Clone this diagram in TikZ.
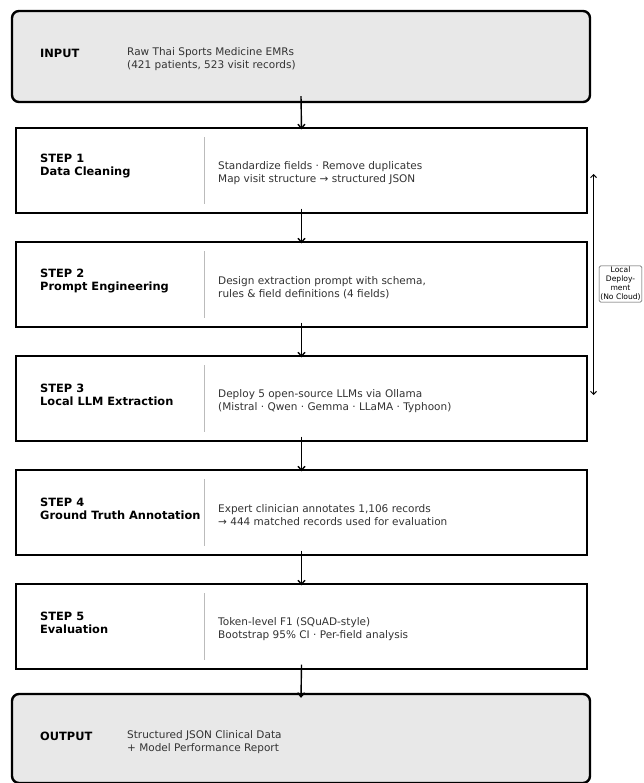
\documentclass[tikz,border=0pt]{standalone}
\usepackage{fontspec}
\setmainfont{DejaVu Sans}
\usetikzlibrary{arrows.meta}
\definecolor{boxgray}{HTML}{E8E8E8}
\definecolor{desc}{HTML}{333333}
\definecolor{divider}{HTML}{BBBBBB}
\tikzset{
  stepbox/.style={draw=black, line width=1.4pt, fill=white, minimum width=571pt, minimum height=85pt, inner sep=0pt},
  endbox/.style={draw=black, line width=2.4pt, fill=boxgray, rounded corners=7pt, minimum width=578pt, inner sep=0pt},
  ttl/.style={anchor=west, align=left, inner sep=0pt, font=\fontsize{11.4}{13}\selectfont\bfseries},
  dsc/.style={anchor=west, align=left, inner sep=0pt, text=desc, font=\fontsize{10.5}{13}\selectfont},
  arr/.style={line width=1.4pt, -{Straight Barb[length=4pt,width=7pt]}},
  dvd/.style={draw=divider, line width=1pt},
}
\begin{document}
\begin{tikzpicture}[x=1pt,y=-1pt]
\useasboundingbox (0,0) rectangle (644,783);
% input / output
\node[endbox, minimum height=91pt] (in) at (301,56.5) {};
\node[endbox, minimum height=89pt] (out) at (301,738.5) {};
% steps
\node[stepbox] (s1) at (301.5,170.5) {};
\node[stepbox] (s2) at (301.5,284.5) {};
\node[stepbox] (s3) at (301.5,398.5) {};
\node[stepbox] (s4) at (301.5,512.5) {};
\node[stepbox] (s5) at (301.5,626.5) {};
% dividers
\foreach \s in {s1,s2,s3,s4,s5}{
  \draw[dvd] ([xshift=-97.5pt,yshift=-10pt]\s.north) -- ([xshift=-97.5pt,yshift=10pt]\s.south);
}
% texts
\node[ttl] (tin) at (40,53) {INPUT};
\node[dsc] (din) at (127,59.5) {Raw Thai Sports Medicine EMRs\\(421 patients, 523 visit records)};
\node[ttl] (t1) at (40,166.5) {STEP 1\\Data Cleaning};
\node[dsc] (d1) at (218,173.5) {Standardize fields · Remove duplicates\\Map visit structure → structured JSON};
\node[ttl] (t2) at (40,280.5) {STEP 2\\Prompt Engineering};
\node[dsc] (d2) at (218,287.5) {Design extraction prompt with schema,\\rules \& field definitions (4 fields)};
\node[ttl] (t3) at (40,394.5) {STEP 3\\Local LLM Extraction};
\node[dsc] (d3) at (218,401.5) {Deploy 5 open-source LLMs via Ollama\\(Mistral · Qwen · Gemma · LLaMA · Typhoon)};
\node[ttl] (t4) at (40,508.5) {STEP 4\\Ground Truth Annotation};
\node[dsc] (d4) at (218,515.5) {Expert clinician annotates 1,106 records\\→ 444 matched records used for evaluation};
\node[ttl] (t5) at (40,622.5) {STEP 5\\Evaluation};
\node[dsc] (d5) at (218,629.5) {Token-level F1 (SQuAD-style)\\Bootstrap 95\% CI · Per-field analysis};
\node[ttl] (tout) at (40,736) {OUTPUT};
\node[dsc] (dout) at (127,742.5) {Structured JSON Clinical Data\\+ Model Performance Report};
% arrows
\draw[arr] ([yshift=7pt]in.south) -- ([yshift=-2pt]s1.north);
\draw[arr] ([yshift=5pt]s1.south) -- ([yshift=-2pt]s2.north);
\draw[arr] ([yshift=5pt]s2.south) -- ([yshift=-2pt]s3.north);
\draw[arr] ([yshift=5pt]s3.south) -- ([yshift=-2pt]s4.north);
\draw[arr] ([yshift=5pt]s4.south) -- ([yshift=-2pt]s5.north);
\draw[arr] ([yshift=5pt]s5.south) -- ([yshift=-5pt]out.north);
% side bracket
\coordinate (sa) at (593.5,174);
\coordinate (sb) at (593.5,395);
\draw[line width=1pt, {Straight Barb[length=3pt,width=6pt]}-{Straight Barb[length=3pt,width=6pt]}] (sa) -- (sb);
\node[draw=black!70, line width=0.6pt, fill=white, rounded corners=1.5pt, align=center, inner sep=1.2pt,
      font=\fontsize{7.6}{9}\selectfont] (lbl) at (620.5,284) {Local\\Deploy-\\ment\\(No Cloud)};
\end{tikzpicture}
\end{document}
